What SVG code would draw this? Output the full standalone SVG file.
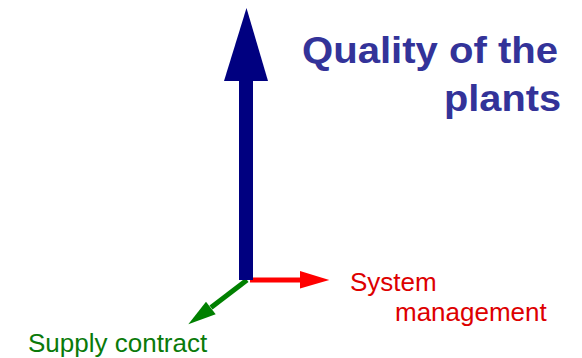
<svg xmlns="http://www.w3.org/2000/svg" width="582" height="358" viewBox="0 0 582 358">
<style>
.title{font-family:"Liberation Sans",Arial,sans-serif;font-weight:bold;font-size:36px;fill:#333399}
.lbl{font-family:"Liberation Sans",Arial,sans-serif;font-size:26px}
</style>
<rect width="582" height="358" fill="#ffffff"/>
<g id="connectors">
  <g id="axis-supply">
    <line x1="247" y1="280" x2="211" y2="307.5" stroke="#008000" stroke-width="5"/>
    <polygon points="188.3,324.3 206,301.7 215.7,314.3" fill="#008000"/>
  </g>
  <g id="axis-system">
    <line x1="250" y1="280" x2="301" y2="280" stroke="#ff0000" stroke-width="5"/>
    <polygon points="300,271 329.3,280 300,288.5" fill="#ff0000"/>
  </g>
  <g id="axis-quality">
    <rect x="239" y="80" width="14" height="200" fill="#000080"/>
    <polygon points="246.5,8 268,81 224,81" fill="#000080"/>
  </g>
</g>
<g id="label-quality">
  <text class="title" x="302" y="63" textLength="256" lengthAdjust="spacingAndGlyphs">Quality of the</text>
  <text class="title" x="444" y="111" textLength="117" lengthAdjust="spacingAndGlyphs">plants</text>
</g>
<g id="label-system">
  <text class="lbl" x="350" y="291" fill="#dd0000">System</text>
  <text class="lbl" x="395" y="321" fill="#dd0000">management</text>
</g>
<g id="label-supply">
  <text class="lbl" x="28" y="352" fill="#0a7a0a">Supply contract</text>
</g>
</svg>
